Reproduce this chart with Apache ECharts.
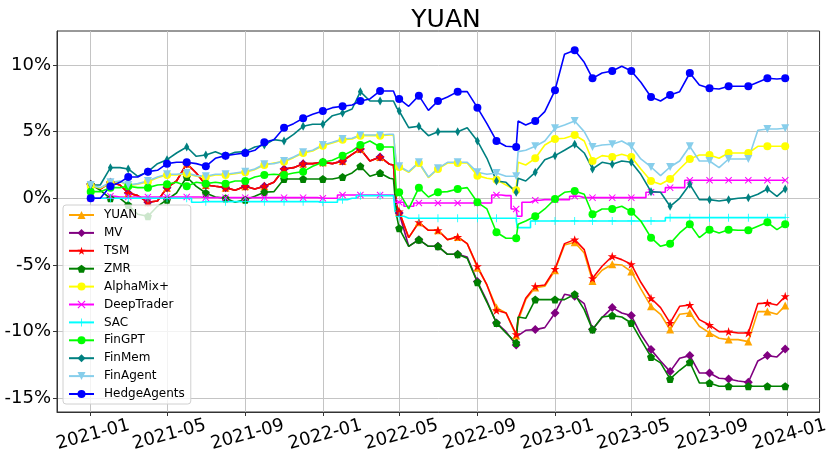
<!DOCTYPE html>
<html>
<head>
<meta charset="utf-8">
<script src="https://cdn.jsdelivr.net/npm/echarts@6/dist/echarts.min.js"></script>
<style>
html, body { margin: 0; padding: 0; background: #fff; }
#chart { width: 831px; height: 467px; }
</style>
</head>
<body>
<div id="chart"></div>
<script>
// sample dates (half-monthly, plus a few around sharp moves)
var dates = [
    '2021-01-01','2021-01-16','2021-02-01','2021-02-16','2021-03-01','2021-03-16','2021-04-01','2021-04-16','2021-05-01','2021-05-16','2021-06-01','2021-06-16',
    '2021-07-01','2021-07-16','2021-08-01','2021-08-16','2021-09-01','2021-09-16','2021-10-01','2021-10-16','2021-11-01','2021-11-16','2021-12-01','2021-12-16',
    '2022-01-01','2022-01-16','2022-02-01','2022-02-16','2022-03-01','2022-03-16','2022-04-01','2022-04-16','2022-04-22','2022-04-27','2022-05-01','2022-05-16',
    '2022-06-01','2022-06-16','2022-07-01','2022-07-16','2022-08-01','2022-08-16','2022-09-01','2022-09-16','2022-10-01','2022-10-16','2022-11-01','2022-11-04',
    '2022-11-16','2022-12-01','2022-12-16','2023-01-01','2023-01-16','2023-02-01','2023-02-16','2023-03-01','2023-03-16','2023-04-01','2023-04-16','2023-05-01',
    '2023-05-16','2023-06-01','2023-06-16','2023-07-01','2023-07-16','2023-08-01','2023-08-16','2023-09-01','2023-09-16','2023-10-01','2023-10-16','2023-11-01',
    '2023-11-16','2023-12-01','2023-12-16','2023-12-29'
];

// cumulative return, %
var yuan = [
    1.05, 0.7, 1.2, 1.0, 0.4, 0.2, -0.3, -0.2, 0.8, 1.3, 2.6, 1.9,
    1.0, 0.9, 0.8, 0.6, 0.9, 0.7, 0.9, 1.2, 2.2, 2.3, 2.6, 2.6,
    2.7, 2.6, 2.8, 3.3, 3.7, 2.8, 3.1, 2.55, 2.5, -0.5, -1.0, -2.95,
    -1.8, -2.4, -2.4, -3.1, -2.9, -3.4, -5.2, -6.5, -8.2, -8.6, -10.3, -9.2,
    -7.6, -6.7, -6.6, -5.4, -3.5, -3.3, -4.1, -6.2, -5.4, -4.95, -5.0, -5.5,
    -6.8, -8.1, -8.7, -9.85, -8.7, -8.6, -9.6, -10.1, -10.5, -10.6, -10.6, -10.75,
    -8.5, -8.5, -8.7, -8.05
];
var mv = [
    1.05, 0.7, 1.2, 1.0, 0.4, 0.2, -0.3, -0.2, 0.8, 1.3, 2.6, 1.9,
    1.0, 0.9, 0.8, 0.6, 0.9, 0.7, 0.9, 1.2, 2.2, 2.3, 2.6, 2.6,
    2.7, 2.6, 2.8, 3.3, 3.7, 2.8, 3.1, 2.55, 2.5, -0.8, -1.1, -3.6,
    -3.1, -3.6, -3.6, -4.2, -4.2, -4.4, -6.25, -7.7, -9.35, -10.0, -11.0, -10.3,
    -9.9, -9.85, -9.7, -8.6, -7.2, -7.35, -7.9, -9.85, -8.95, -8.2, -8.6, -8.8,
    -10.2, -11.35, -12.2, -13.0, -12.0, -11.8, -13.1, -13.1, -13.5, -13.55, -13.7, -13.8,
    -12.2, -11.8, -11.9, -11.3
];
var tsm = [
    1.05, 0.7, 1.2, 1.0, 0.4, 0.2, -0.3, -0.2, 0.8, 1.3, 2.6, 1.9,
    1.0, 0.9, 0.8, 0.6, 0.9, 0.7, 0.9, 1.2, 2.2, 2.3, 2.6, 2.6,
    2.7, 2.6, 2.8, 3.3, 3.7, 2.8, 3.1, 2.55, 2.5, -0.5, -1.0, -2.95,
    -1.8, -2.4, -2.4, -3.1, -2.9, -3.4, -5.1, -6.5, -8.4, -8.6, -10.2, -9.0,
    -7.5, -6.6, -6.5, -5.3, -3.4, -3.1, -3.85, -6.0, -5.1, -4.35, -4.6, -4.95,
    -6.3, -7.5, -8.2, -9.35, -8.1, -8.0, -9.1, -9.5, -10.0, -10.0, -10.1, -10.1,
    -7.9, -7.85, -8.0, -7.35
];
var zmr = [
    1.05, 0.6, 0.0, 0.0, -0.5, -1.2, -1.35, -0.6, -0.1, 0.4, 1.6, 0.9,
    0.4, 0.1, 0.0, -0.3, -0.1, 0.15, 0.45, 0.5, 1.45, 1.45, 1.45, 1.45,
    1.45, 1.45, 1.6, 1.9, 2.4, 1.65, 1.9, 1.5, 1.45, -1.3, -2.25, -3.6,
    -3.1, -3.6, -3.6, -4.2, -4.2, -4.5, -6.3, -7.8, -9.35, -10.1, -10.85, -8.9,
    -9.0, -7.6, -7.6, -7.6, -7.6, -7.2, -8.35, -9.85, -8.9, -8.8, -8.9, -9.35,
    -10.6, -11.9, -12.35, -13.55, -12.9, -12.3, -13.85, -13.85, -14.1, -14.1, -14.1, -14.1,
    -14.1, -14.1, -14.1, -14.1
];
var alphaMix = [
    0.95, 0.75, 1.15, 1.25, 0.95, 1.05, 1.25, 1.55, 1.75, 1.75, 1.85, 1.65,
    1.6, 1.75, 1.75, 1.85, 1.95, 2.15, 2.5, 2.65, 2.75, 3.05, 3.4, 3.55,
    3.95, 4.15, 4.4, 4.45, 4.7, 4.7, 4.7, 4.75, 4.75, 2.35, 2.35, 1.95,
    2.65, 1.55, 2.2, 2.65, 2.65, 2.65, 1.7, 1.5, 1.4, 1.0, 0.6, 2.7,
    2.5, 3.0, 4.0, 4.45, 4.5, 4.75, 4.3, 2.8, 3.2, 3.1, 3.3, 3.1,
    2.2, 1.3, 1.05, 1.45, 2.2, 2.95, 3.25, 3.25, 3.0, 3.4, 3.4, 3.4,
    3.9, 3.9, 3.9, 3.9
];
var deepTrader = [
    0.0, 0.0, 0.15, 0.1, 0.1, 0.1, 0.1, 0.1, 0.1, 0.1, 0.1, 0.1,
    0.05, 0.05, 0.05, 0.05, 0.05, 0.05, 0.05, 0.05, 0.05, 0.05, 0.05, 0.05,
    0.0, 0.0, 0.25, 0.25, 0.25, 0.25, 0.25, 0.25, 0.25, -0.3, -0.3, -0.6,
    -0.35, -0.35, -0.35, -0.35, -0.35, -0.35, -0.35, -0.35, 0.25, 0.2, -0.8, -1.35,
    -0.3, -0.15, -0.1, -0.1, -0.1, 0.15, 0.05, 0.05, 0.05, 0.05, 0.05, 0.05,
    0.05, 0.45, 0.45, 0.8, 0.8, 1.35, 1.35, 1.35, 1.35, 1.35, 1.35, 1.35,
    1.35, 1.35, 1.35, 1.35
];
var sac = [
    0.0, 0.0, 0.0, 0.0, 0.0, 0.0, 0.0, 0.0, 0.0, 0.0, 0.0, -0.3,
    -0.25, -0.25, -0.25, -0.25, -0.25, -0.25, -0.25, -0.25, -0.25, -0.25, -0.25, -0.25,
    -0.3, -0.3, -0.1, 0.0, 0.2, 0.2, 0.2, 0.2, 0.2, -1.0, -1.35, -1.5,
    -1.5, -1.5, -1.5, -1.5, -1.5, -1.5, -1.5, -1.5, -1.5, -1.5, -1.5, -2.2,
    -2.2, -1.7, -1.7, -1.7, -1.7, -1.7, -1.7, -1.7, -1.7, -1.7, -1.7, -1.7,
    -1.7, -1.7, -1.7, -1.45, -1.45, -1.45, -1.45, -1.45, -1.45, -1.45, -1.45, -1.45,
    -1.45, -1.45, -1.45, -1.45
];
var finGPT = [
    0.5, 0.5, 0.8, 0.8, 0.9, 0.8, 0.8, 1.0, 1.05, 1.2, 0.9, 1.2,
    1.1, 1.2, 1.1, 1.3, 1.3, 1.6, 1.75, 1.8, 1.75, 1.9, 2.0, 2.4,
    2.7, 2.85, 3.2, 3.55, 4.0, 4.3, 3.85, 3.85, 3.85, 0.15, 0.45, -0.8,
    0.8, 0.1, 0.45, 0.5, 0.7, 0.8, -0.3, -0.8, -2.55, -3.0, -3.0, -1.95,
    -1.7, -1.35, -0.8, -0.05, 0.45, 0.55, 0.3, -1.2, -0.8, -0.8, -0.6, -1.0,
    -1.7, -2.95, -3.6, -3.4, -2.6, -1.95, -2.95, -2.35, -2.6, -2.35, -2.4, -2.4,
    -2.1, -1.8, -2.35, -1.95
];
var finMem = [
    1.0, 1.0, 2.3, 2.3, 2.2, 1.65, 2.0, 2.6, 2.9, 3.4, 3.85, 3.15,
    3.25, 3.5, 3.2, 3.45, 3.5, 3.85, 4.0, 4.4, 4.3, 4.8, 5.4, 5.55,
    5.55, 6.2, 6.4, 6.7, 8.0, 7.3, 7.3, 7.3, 7.3, 6.8, 6.55, 5.3,
    5.4, 4.7, 5.0, 5.0, 5.0, 5.3, 4.3, 3.0, 1.3, 1.2, 0.45, 1.5,
    1.3, 1.95, 2.9, 3.2, 3.6, 4.05, 3.4, 2.2, 2.7, 2.55, 2.8, 2.7,
    1.8, 0.5, 0.45, -0.6, 0.0, 1.05, -0.1, -0.1, -0.2, -0.1, 0.0, 0.05,
    0.3, 0.7, 0.15, 0.7
];
var finAgent = [
    1.0, 0.8, 1.2, 1.3, 1.0, 1.1, 1.3, 1.6, 1.8, 1.8, 1.9, 1.7,
    1.65, 1.8, 1.8, 1.9, 2.0, 2.2, 2.55, 2.6, 2.8, 3.1, 3.45, 3.6,
    4.0, 4.2, 4.45, 4.5, 4.75, 4.75, 4.75, 4.8, 4.8, 2.4, 2.4, 2.0,
    2.7, 1.6, 2.25, 2.7, 2.7, 2.7, 1.95, 1.8, 1.9, 1.65, 1.65, 3.5,
    3.6, 3.9, 4.3, 5.25, 5.5, 5.8, 5.0, 3.85, 4.0, 4.05, 4.3, 3.9,
    2.95, 2.35, 1.7, 2.35, 2.8, 3.9, 2.8, 2.8, 2.3, 2.95, 2.95, 2.95,
    5.1, 5.2, 5.2, 5.25
];
var hedgeAgents = [
    0.0, 0.0, 0.9, 1.2, 1.6, 1.6, 2.0, 2.1, 2.6, 2.7, 2.7, 2.6,
    2.4, 3.0, 3.2, 3.3, 3.4, 3.6, 4.2, 4.4, 5.3, 5.6, 6.0, 6.3,
    6.55, 6.8, 6.9, 7.0, 7.3, 7.45, 8.05, 8.05, 8.05, 7.45, 7.45, 6.9,
    7.7, 6.6, 7.3, 7.6, 8.0, 8.0, 6.8, 5.6, 4.3, 3.9, 3.85, 5.8,
    5.5, 5.8, 6.5, 8.1, 10.8, 11.1, 10.2, 9.0, 9.4, 9.55, 9.9, 9.55,
    8.7, 7.6, 7.3, 7.75, 8.0, 9.4, 8.5, 8.25, 8.2, 8.4, 8.4, 8.4,
    8.7, 9.0, 8.95, 9.0
];

var xTickDates = ['2021-01-01','2021-05-01','2021-09-01','2022-01-01','2022-05-01','2022-09-01',
                  '2023-01-01','2023-05-01','2023-09-01','2024-01-01'];
var yTicks = [-15, -10, -5, 0, 5, 10];

var FONT = 'DejaVu Sans';
var STAR = 'path://M0,-1 L0.2245,-0.309 L0.951,-0.309 L0.363,0.118 L0.588,0.809 L0,0.382 L-0.588,0.809 L-0.363,0.118 L-0.951,-0.309 L-0.2245,-0.309 Z';
var PENTA = 'path://M0,-1 L0.951,-0.309 L0.588,0.809 L-0.588,0.809 L-0.951,-0.309 Z';
var XMARK = 'path://M-1,-0.8 L-0.8,-1 L0,-0.2 L0.8,-1 L1,-0.8 L0.2,0 L1,0.8 L0.8,1 L0,0.2 L-0.8,1 L-1,0.8 L-0.2,0 Z';
var PLUS = 'path://M-0.1,-1 L0.1,-1 L0.1,-0.1 L1,-0.1 L1,0.1 L0.1,0.1 L0.1,1 L-0.1,1 L-0.1,0.1 L-1,0.1 L-1,-0.1 L-0.1,-0.1 Z';
var TRI_DOWN = 'path://M-1,-0.8 L1,-0.8 L0,1 Z';

var lines = [
    {name: 'YUAN', data: yuan, color: '#ffa500', symbol: 'triangle', size: 8},
    {name: 'MV', data: mv, color: '#800080', symbol: 'diamond', size: 9},
    {name: 'TSM', data: tsm, color: '#ff0000', symbol: STAR, size: 9},
    {name: 'ZMR', data: zmr, color: '#008000', symbol: PENTA, size: 8},
    {name: 'AlphaMix+', data: alphaMix, color: '#ffff00', symbol: 'circle', size: 8},
    {name: 'DeepTrader', data: deepTrader, color: '#ff00ff', symbol: XMARK, size: 7, step: 'middle'},
    {name: 'SAC', data: sac, color: '#00ffff', symbol: PLUS, size: 8, step: 'middle'},
    {name: 'FinGPT', data: finGPT, color: '#00ff00', symbol: 'circle', size: 8},
    {name: 'FinMem', data: finMem, color: '#008080', symbol: 'diamond', size: [5, 9]},
    {name: 'FinAgent', data: finAgent, color: '#87ceeb', symbol: TRI_DOWN, size: 8},
    {name: 'HedgeAgents', data: hedgeAgents, color: '#0000ff', symbol: 'circle', size: 8}
];

function toTime(s) {
    var p = s.split('-');
    return new Date(+p[0], +p[1] - 1, +p[2]).getTime();
}
function isMarked(i) {
    return dates[i].slice(8) === '01' || i === dates.length - 1;
}

var chart = echarts.init(document.getElementById('chart'), null, {renderer: 'canvas'});

var xTicks = xTickDates.map(toTime);

var option = {
    animation: false,
    backgroundColor: '#fff',
    textStyle: {fontFamily: FONT},
    title: {
        text: 'YUAN',
        left: 441,
        textAlign: 'center',
        top: 3,
        textStyle: {fontFamily: FONT, fontSize: 25, fontWeight: 'normal', color: '#000'}
    },
    grid: {
        left: 57, right: 6, top: 31, bottom: 55,
        show: true, borderColor: '#333', borderWidth: 1
    },
    legend: {
        orient: 'vertical',
        left: 63,
        top: 205,
        itemWidth: 25,
        itemHeight: 10,
        itemGap: 5.9,
        padding: [4, 6, 4, 5],
        backgroundColor: 'rgba(255,255,255,0.8)',
        borderColor: '#d0d0d0',
        borderWidth: 1,
        borderRadius: 3,
        textStyle: {fontFamily: FONT, fontSize: 12, color: '#000', lineHeight: 12, padding: [0, 0, 0, 5]},
        data: lines.map(function (l) { return l.name; })
    },
    xAxis: {
        type: 'value',
        min: toTime('2020-11-09'),
        max: toTime('2024-02-21'),
        axisLine: {show: true, onZero: false, lineStyle: {color: '#333', width: 1}},
        axisTick: {show: true, length: 4, customValues: xTicks, lineStyle: {color: '#333'}},
        axisLabel: {
            customValues: xTicks,
            rotate: 15,
            align: 'center',
            verticalAlign: 'top',
            margin: 14,
            fontFamily: FONT,
            fontSize: 18,
            color: '#000',
            formatter: function (v) {
                var d = new Date(v);
                var m = d.getMonth() + 1;
                return d.getFullYear() + '-' + (m < 10 ? '0' + m : m);
            }
        },
        splitLine: {show: true, lineStyle: {color: '#c4c4c4', width: 1}}
    },
    yAxis: {
        type: 'value',
        min: -16.03,
        max: 12.55,
        axisLine: {show: true, onZero: false, lineStyle: {color: '#333', width: 1}},
        axisTick: {show: true, length: 4, customValues: yTicks, lineStyle: {color: '#333'}},
        axisLabel: {
            customValues: yTicks,
            margin: 6,
            fontFamily: FONT,
            fontSize: 18,
            color: '#000',
            formatter: function (v) { return v + '%'; }
        },
        splitLine: {show: true, lineStyle: {color: '#c4c4c4', width: 1}}
    },
    series: lines.map(function (l) {
        return {
            type: 'line',
            name: l.name,
            step: l.step || false,
            data: dates.map(function (d, i) { return [toTime(d), l.data[i]]; }),
            color: l.color,
            symbol: l.symbol,
            symbolSize: function (val, params) {
                return isMarked(params.dataIndex) ? l.size : 0;
            },
            showSymbol: true,
            showAllSymbol: true,
            lineStyle: {width: 1.6, color: l.color},
            itemStyle: {color: l.color},
            emphasis: {disabled: true}
        };
    })
};

chart.setOption(option);
</script>
</body>
</html>
